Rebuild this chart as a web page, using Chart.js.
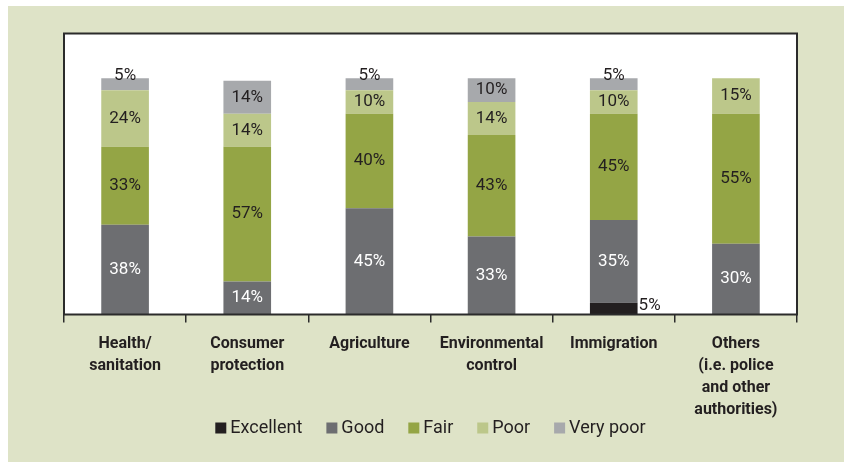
<!DOCTYPE html>
<html>
<head>
<meta charset="utf-8">
<script src="https://cdn.jsdelivr.net/npm/chart.js@4"></script>
<style>
  body { margin: 0; background: #ffffff; }
  #panel { position: absolute; left: 8px; top: 6px; width: 836px; height: 456px; background: #dee3c7; }
</style>
</head>
<body>
<div id="panel"><canvas id="myChart" width="836" height="456"></canvas></div>
<script>

categories = [
    ['Health/', 'sanitation'],
    ['Consumer', 'protection'],
    ['Agriculture'],
    ['Environmental', 'control'],
    ['Immigration'],
    ['Others', '(i.e. police', 'and other', 'authorities)']
]

// percentages per rating, one value per category
excellent = [0, 0, 0, 0, 5, 0]
good = [38, 14, 45, 33, 35, 30]
fair = [33, 57, 40, 43, 45, 55]
poor = [24, 14, 10, 14, 10, 15]
veryPoor = [5, 14, 5, 10, 5, 0]

fontFamily = "Roboto, 'Liberation Sans', sans-serif"
darkText = '#231f20'

// white plot area with a dark frame round it
plotFrame = {
    id: 'plotFrame',
    beforeDraw(chart) {
        var a = chart.chartArea
        var ctx = chart.ctx
        ctx.save()
        ctx.fillStyle = '#ffffff'
        ctx.fillRect(a.left, a.top, a.right - a.left, a.bottom - a.top)
        ctx.restore()
    },
    afterDraw(chart) {
        var a = chart.chartArea
        var ctx = chart.ctx
        ctx.save()
        ctx.strokeStyle = '#2b2b2b'
        ctx.lineWidth = 2
        ctx.strokeRect(a.left, a.top, a.right - a.left, a.bottom - a.top)
        ctx.restore()
    }
}

// percent labels inside each segment
percentLabels = {
    id: 'percentLabels',
    afterDatasetsDraw(chart) {
        var ctx = chart.ctx
        ctx.save()
        ctx.font = '17px ' + fontFamily
        ctx.textBaseline = 'middle'
        chart.data.datasets.forEach(function(ds, d) {
            var meta = chart.getDatasetMeta(d)
            meta.data.forEach(function(bar, i) {
                var v = ds.data[i]
                if (!v) return
                var text = v + '%'
                var mid = (bar.y + bar.base) / 2
                if (d === 0) {
                    // too thin to hold text, so it sits beside the bar
                    ctx.textAlign = 'left'
                    ctx.fillStyle = darkText
                    ctx.fillText(text, bar.x + bar.width / 2 + 1, mid - 3)
                } else if (v <= 5) {
                    ctx.textAlign = 'center'
                    ctx.fillStyle = darkText
                    ctx.fillText(text, bar.x, bar.y - 3)
                } else {
                    ctx.textAlign = 'center'
                    ctx.fillStyle = (d === 1) ? '#ffffff' : darkText
                    ctx.fillText(text, bar.x, mid)
                }
            })
        })
        ctx.restore()
    }
}

// one-row legend under the axis labels: small square, then the name
legendRow = {
    id: 'legendRow',
    afterDraw(chart) {
        var ctx = chart.ctx
        var a = chart.chartArea
        ctx.save()
        ctx.font = '18px ' + fontFamily
        ctx.textBaseline = 'middle'
        ctx.textAlign = 'left'
        var box = 11, gap = 4, spacing = 24
        var items = chart.data.datasets.map(function(ds) {
            return { text: ds.label, color: ds.backgroundColor, w: ctx.measureText(ds.label).width }
        })
        var total = 0
        items.forEach(function(it) { total += box + gap + it.w })
        total += spacing * (items.length - 1)
        var x = (a.left + a.right) / 2 - total / 2
        var y = chart.height - 34
        items.forEach(function(it) {
            ctx.fillStyle = it.color
            ctx.fillRect(x, y - box / 2, box, box)
            ctx.fillStyle = darkText
            ctx.fillText(it.text, x + box + gap, y)
            x += box + gap + it.w + spacing
        })
        ctx.restore()
    }
}

var ctx = document.getElementById('myChart').getContext('2d')
var myChart = new Chart(ctx, {
    type: 'bar',
    data: {
        labels: categories,
        datasets: [
            { label: 'Excellent', data: excellent, backgroundColor: '#231f20' },
            { label: 'Good', data: good, backgroundColor: '#6d6e71' },
            { label: 'Fair', data: fair, backgroundColor: '#94a545' },
            { label: 'Poor', data: poor, backgroundColor: '#bcc78a' },
            { label: 'Very poor', data: veryPoor, backgroundColor: '#a7a9ac' }
        ]
    },
    options: {
        responsive: false,
        animation: false,
        layout: { padding: { left: 56, right: 47, top: 27.5, bottom: 20 } },
        datasets: {
            bar: { barPercentage: 0.39, categoryPercentage: 1 }
        },
        scales: {
            x: {
                stacked: true,
                grid: {
                    drawOnChartArea: false,
                    drawTicks: true,
                    tickLength: 8,
                    color: '#2b2b2b',
                    lineWidth: 1.5
                },
                border: { display: false },
                ticks: {
                    padding: 10,
                    maxRotation: 0,
                    autoSkip: false,
                    color: darkText,
                    font: { family: fontFamily, size: 16, weight: 'bold', lineHeight: 1.375 }
                },
                afterFit: function(scale) { scale.height = 127.5 }
            },
            y: {
                stacked: true,
                display: false,
                min: 0,
                max: 119
            }
        },
        plugins: {
            tooltip: { enabled: false },
            legend: { display: false }
        }
    },
    plugins: [plotFrame, percentLabels, legendRow]
})
</script>
</body>
</html>
